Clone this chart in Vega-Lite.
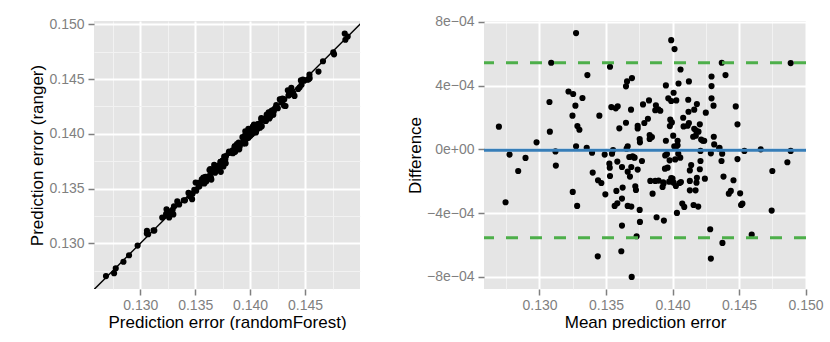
{
  "$schema": "https://vega.github.io/schema/vega-lite/v6.json",
  "background": "white",
  "padding": {"left": 28, "top": 14, "right": 0, "bottom": 0},
  "spacing": 46,
  "datasets": {
    "pts": [
      {"rf":0.12688,"rg":0.12702,"m":0.12695,"d":1.42e-4},
      {"rf":0.12762,"rg":0.12728,"m":0.12745,"d":-3.32e-4},
      {"rf":0.12777,"rg":0.12773,"m":0.12775,"d":-0.33e-4},
      {"rf":0.12847,"rg":0.12833,"m":0.1284,"d":-1.36e-4},
      {"rf":0.12898,"rg":0.12892,"m":0.12895,"d":-0.54e-4},
      {"rf":0.12976,"rg":0.1298,"m":0.12978,"d":0.44e-4},
      {"rf":0.1306,"rg":0.1309,"m":0.13075,"d":2.97e-4},
      {"rf":0.13072,"rg":0.13084,"m":0.13078,"d":1.11e-4},
      {"rf":0.13061,"rg":0.13115,"m":0.13088,"d":5.43e-4},
      {"rf":0.13121,"rg":0.13119,"m":0.1312,"d":-0.13e-4},
      {"rf":0.13128,"rg":0.13118,"m":0.13123,"d":-1.02e-4},
      {"rf":0.132,"rg":0.13236,"m":0.13218,"d":3.63e-4},
      {"rf":0.13236,"rg":0.1327,"m":0.13253,"d":3.47e-4},
      {"rf":0.13237,"rg":0.13259,"m":0.13248,"d":2.11e-4},
      {"rf":0.13256,"rg":0.13284,"m":0.1327,"d":2.74e-4},
      {"rf":0.13278,"rg":0.13292,"m":0.13285,"d":1.46e-4},
      {"rf":0.13294,"rg":0.13306,"m":0.133,"d":1.23e-4},
      {"rf":0.13307,"rg":0.13339,"m":0.13323,"d":3.22e-4},
      {"rf":0.13239,"rg":0.13311,"m":0.13275,"d":7.29e-4},
      {"rf":0.13274,"rg":0.13276,"m":0.13275,"d":0.19e-4},
      {"rf":0.13263,"rg":0.13237,"m":0.1325,"d":-2.67e-4},
      {"rf":0.13301,"rg":0.13265,"m":0.13283,"d":-3.55e-4},
      {"rf":0.13337,"rg":0.13383,"m":0.1336,"d":4.66e-4},
      {"rf":0.13354,"rg":0.13356,"m":0.13355,"d":0.1e-4},
      {"rf":0.13396,"rg":0.13394,"m":0.13395,"d":-0.21e-4},
      {"rf":0.13407,"rg":0.13393,"m":0.134,"d":-1.46e-4},
      {"rf":0.13439,"rg":0.13461,"m":0.1345,"d":2.11e-4},
      {"rf":0.1345,"rg":0.1343,"m":0.1344,"d":-1.94e-4},
      {"rf":0.13476,"rg":0.13454,"m":0.13465,"d":-2.11e-4},
      {"rf":0.13509,"rg":0.13481,"m":0.13495,"d":-2.82e-4},
      {"rf":0.13492,"rg":0.13488,"m":0.1349,"d":-0.33e-4},
      {"rf":0.13472,"rg":0.13404,"m":0.13438,"d":-6.71e-4},
      {"rf":0.13504,"rg":0.13556,"m":0.1353,"d":5.18e-4},
      {"rf":0.13527,"rg":0.13553,"m":0.1354,"d":2.65e-4},
      {"rf":0.1356,"rg":0.13586,"m":0.13573,"d":2.57e-4},
      {"rf":0.13574,"rg":0.13602,"m":0.13588,"d":2.7e-4},
      {"rf":0.1353,"rg":0.1352,"m":0.13525,"d":-0.9e-4},
      {"rf":0.13534,"rg":0.13522,"m":0.13528,"d":-1.15e-4},
      {"rf":0.13538,"rg":0.13522,"m":0.1353,"d":-1.67e-4},
      {"rf":0.13553,"rg":0.13553,"m":0.13553,"d":-0.04e-4},
      {"rf":0.13546,"rg":0.13544,"m":0.13545,"d":-0.27e-4},
      {"rf":0.13591,"rg":0.13565,"m":0.13578,"d":-2.61e-4},
      {"rf":0.13589,"rg":0.13581,"m":0.13585,"d":-0.77e-4},
      {"rf":0.13583,"rg":0.13547,"m":0.13565,"d":-3.55e-4},
      {"rf":0.13602,"rg":0.13568,"m":0.13585,"d":-3.38e-4},
      {"rf":0.13593,"rg":0.13607,"m":0.136,"d":1.32e-4},
      {"rf":0.13644,"rg":0.13596,"m":0.1362,"d":-4.78e-4},
      {"rf":0.13647,"rg":0.13583,"m":0.13615,"d":-6.39e-4},
      {"rf":0.13635,"rg":0.13605,"m":0.1362,"d":-3.09e-4},
      {"rf":0.13637,"rg":0.13613,"m":0.13625,"d":-2.4e-4},
      {"rf":0.13626,"rg":0.13614,"m":0.1362,"d":-1.11e-4},
      {"rf":0.1363,"rg":0.1367,"m":0.1365,"d":3.95e-4},
      {"rf":0.13637,"rg":0.13679,"m":0.13658,"d":4.26e-4},
      {"rf":0.13673,"rg":0.13717,"m":0.13695,"d":4.47e-4},
      {"rf":0.13642,"rg":0.13658,"m":0.1365,"d":1.67e-4},
      {"rf":0.13662,"rg":0.13664,"m":0.13663,"d":0.19e-4},
      {"rf":0.1367,"rg":0.13656,"m":0.13663,"d":-1.4e-4},
      {"rf":0.13677,"rg":0.13673,"m":0.13675,"d":-0.48e-4},
      {"rf":0.13689,"rg":0.13671,"m":0.1368,"d":-1.71e-4},
      {"rf":0.13676,"rg":0.137,"m":0.13688,"d":2.49e-4},
      {"rf":0.13696,"rg":0.13684,"m":0.1369,"d":-1.11e-4},
      {"rf":0.13681,"rg":0.13645,"m":0.13663,"d":-3.55e-4},
      {"rf":0.13708,"rg":0.13672,"m":0.1369,"d":-3.59e-4},
      {"rf":0.13733,"rg":0.13653,"m":0.13693,"d":-8.0e-4},
      {"rf":0.13702,"rg":0.13698,"m":0.137,"d":-0.44e-4},
      {"rf":0.13718,"rg":0.13712,"m":0.13715,"d":-0.52e-4},
      {"rf":0.13732,"rg":0.13708,"m":0.1372,"d":-2.32e-4},
      {"rf":0.13738,"rg":0.13712,"m":0.13725,"d":-2.55e-4},
      {"rf":0.13757,"rg":0.13703,"m":0.1373,"d":-5.45e-4},
      {"rf":0.13772,"rg":0.13734,"m":0.13753,"d":-3.8e-4},
      {"rf":0.13778,"rg":0.13732,"m":0.13755,"d":-4.55e-4},
      {"rf":0.13731,"rg":0.13745,"m":0.13738,"d":1.48e-4},
      {"rf":0.13731,"rg":0.13745,"m":0.13738,"d":1.31e-4},
      {"rf":0.1375,"rg":0.13756,"m":0.13753,"d":0.65e-4},
      {"rf":0.13753,"rg":0.13757,"m":0.13755,"d":0.44e-4},
      {"rf":0.13774,"rg":0.13766,"m":0.1377,"d":-0.73e-4},
      {"rf":0.13764,"rg":0.13792,"m":0.13778,"d":2.82e-4},
      {"rf":0.1378,"rg":0.13796,"m":0.13788,"d":1.65e-4},
      {"rf":0.13805,"rg":0.13825,"m":0.13815,"d":1.92e-4},
      {"rf":0.13808,"rg":0.13838,"m":0.13823,"d":3.07e-4},
      {"rf":0.13823,"rg":0.13833,"m":0.13828,"d":0.9e-4},
      {"rf":0.13825,"rg":0.13831,"m":0.13828,"d":0.65e-4},
      {"rf":0.13841,"rg":0.13849,"m":0.13845,"d":0.77e-4},
      {"rf":0.13843,"rg":0.13823,"m":0.13833,"d":-1.98e-4},
      {"rf":0.13864,"rg":0.13836,"m":0.1385,"d":-2.78e-4},
      {"rf":0.1388,"rg":0.1386,"m":0.1387,"d":-1.98e-4},
      {"rf":0.13861,"rg":0.13889,"m":0.13875,"d":2.76e-4},
      {"rf":0.13905,"rg":0.13885,"m":0.13895,"d":-1.96e-4},
      {"rf":0.13901,"rg":0.13859,"m":0.1388,"d":-4.26e-4},
      {"rf":0.13957,"rg":0.13913,"m":0.13935,"d":-4.47e-4},
      {"rf":0.1388,"rg":0.13906,"m":0.13893,"d":2.51e-4},
      {"rf":0.13896,"rg":0.1392,"m":0.13908,"d":2.42e-4},
      {"rf":0.13858,"rg":0.13882,"m":0.1387,"d":2.45e-4},
      {"rf":0.13937,"rg":0.13913,"m":0.13925,"d":-2.36e-4},
      {"rf":0.1394,"rg":0.1392,"m":0.1393,"d":-2.07e-4},
      {"rf":0.1393,"rg":0.1397,"m":0.1395,"d":4.01e-4},
      {"rf":0.13947,"rg":0.13953,"m":0.1395,"d":0.54e-4},
      {"rf":0.13947,"rg":0.13943,"m":0.13945,"d":-0.38e-4},
      {"rf":0.13959,"rg":0.13957,"m":0.13958,"d":-0.29e-4},
      {"rf":0.13952,"rg":0.13984,"m":0.13968,"d":3.2e-4},
      {"rf":0.13975,"rg":0.14005,"m":0.1399,"d":3.03e-4},
      {"rf":0.13956,"rg":0.14024,"m":0.1399,"d":6.85e-4},
      {"rf":0.13984,"rg":0.14046,"m":0.14015,"d":6.29e-4},
      {"rf":0.13974,"rg":0.13992,"m":0.13983,"d":1.86e-4},
      {"rf":0.13973,"rg":0.13987,"m":0.1398,"d":1.46e-4},
      {"rf":0.13987,"rg":0.14003,"m":0.13995,"d":1.69e-4},
      {"rf":0.1399,"rg":0.14026,"m":0.14008,"d":3.55e-4},
      {"rf":0.14013,"rg":0.14043,"m":0.14028,"d":3.07e-4},
      {"rf":0.14001,"rg":0.14009,"m":0.14005,"d":0.86e-4},
      {"rf":0.14012,"rg":0.14014,"m":0.14013,"d":0.19e-4},
      {"rf":0.14024,"rg":0.14026,"m":0.14025,"d":0.15e-4},
      {"rf":0.14035,"rg":0.14041,"m":0.14038,"d":0.54e-4},
      {"rf":0.14023,"rg":0.14017,"m":0.1402,"d":-0.63e-4},
      {"rf":0.14044,"rg":0.14042,"m":0.14043,"d":-0.27e-4},
      {"rf":0.14018,"rg":0.13998,"m":0.14008,"d":-2.09e-4},
      {"rf":0.14037,"rg":0.14013,"m":0.14025,"d":-2.3e-4},
      {"rf":0.14064,"rg":0.14042,"m":0.14053,"d":-2.11e-4},
      {"rf":0.14053,"rg":0.14013,"m":0.14033,"d":-3.99e-4},
      {"rf":0.13999,"rg":0.13981,"m":0.1399,"d":-1.8e-4},
      {"rf":0.13985,"rg":0.13965,"m":0.13975,"d":-2.03e-4},
      {"rf":0.13969,"rg":0.13957,"m":0.13963,"d":-1.15e-4},
      {"rf":0.14035,"rg":0.14085,"m":0.1406,"d":5.01e-4},
      {"rf":0.14024,"rg":0.14066,"m":0.14045,"d":4.13e-4},
      {"rf":0.1407,"rg":0.1409,"m":0.1408,"d":1.98e-4},
      {"rf":0.14076,"rg":0.1409,"m":0.14083,"d":1.44e-4},
      {"rf":0.14061,"rg":0.14055,"m":0.14058,"d":-0.52e-4},
      {"rf":0.1409,"rg":0.14056,"m":0.14073,"d":-3.4e-4},
      {"rf":0.14106,"rg":0.1407,"m":0.14088,"d":-3.61e-4},
      {"rf":0.14102,"rg":0.14144,"m":0.14123,"d":4.26e-4},
      {"rf":0.14102,"rg":0.14134,"m":0.14118,"d":3.11e-4},
      {"rf":0.14108,"rg":0.14132,"m":0.1412,"d":2.36e-4},
      {"rf":0.14106,"rg":0.1412,"m":0.14113,"d":1.48e-4},
      {"rf":0.14137,"rg":0.14123,"m":0.1413,"d":-1.32e-4},
      {"rf":0.14145,"rg":0.14135,"m":0.1414,"d":-0.98e-4},
      {"rf":0.1414,"rg":0.1412,"m":0.1413,"d":-1.98e-4},
      {"rf":0.14143,"rg":0.14117,"m":0.1413,"d":-2.57e-4},
      {"rf":0.14151,"rg":0.14175,"m":0.14163,"d":2.49e-4},
      {"rf":0.14169,"rg":0.14197,"m":0.14183,"d":2.84e-4},
      {"rf":0.14157,"rg":0.14169,"m":0.14163,"d":1.29e-4},
      {"rf":0.14151,"rg":0.14159,"m":0.14155,"d":0.79e-4},
      {"rf":0.14169,"rg":0.14181,"m":0.14175,"d":1.19e-4},
      {"rf":0.14197,"rg":0.14213,"m":0.14205,"d":1.57e-4},
      {"rf":0.14192,"rg":0.14174,"m":0.14183,"d":-1.78e-4},
      {"rf":0.1419,"rg":0.1417,"m":0.1418,"d":-2.09e-4},
      {"rf":0.14186,"rg":0.1416,"m":0.14173,"d":-2.57e-4},
      {"rf":0.14175,"rg":0.14141,"m":0.14158,"d":-3.49e-4},
      {"rf":0.14211,"rg":0.14175,"m":0.14193,"d":-3.59e-4},
      {"rf":0.14212,"rg":0.14218,"m":0.14215,"d":0.61e-4},
      {"rf":0.14225,"rg":0.14231,"m":0.14228,"d":0.54e-4},
      {"rf":0.1421,"rg":0.1421,"m":0.1421,"d":-0.1e-4},
      {"rf":0.14214,"rg":0.14206,"m":0.1421,"d":-0.73e-4},
      {"rf":0.14211,"rg":0.14199,"m":0.14205,"d":-1.25e-4},
      {"rf":0.14252,"rg":0.14234,"m":0.14243,"d":-1.84e-4},
      {"rf":0.14238,"rg":0.14262,"m":0.1425,"d":2.3e-4},
      {"rf":0.1427,"rg":0.14316,"m":0.14293,"d":4.57e-4},
      {"rf":0.14273,"rg":0.14313,"m":0.14293,"d":3.97e-4},
      {"rf":0.14277,"rg":0.14309,"m":0.14293,"d":3.2e-4},
      {"rf":0.14294,"rg":0.14322,"m":0.14308,"d":2.74e-4},
      {"rf":0.14306,"rg":0.14314,"m":0.1431,"d":0.79e-4},
      {"rf":0.14311,"rg":0.14315,"m":0.14313,"d":0.31e-4},
      {"rf":0.14308,"rg":0.14258,"m":0.14283,"d":-5.01e-4},
      {"rf":0.14322,"rg":0.14254,"m":0.14288,"d":-6.85e-4},
      {"rf":0.14289,"rg":0.14287,"m":0.14288,"d":-0.25e-4},
      {"rf":0.14352,"rg":0.14354,"m":0.14353,"d":0.1e-4},
      {"rf":0.14343,"rg":0.14397,"m":0.1437,"d":5.43e-4},
      {"rf":0.14375,"rg":0.14421,"m":0.14398,"d":4.66e-4},
      {"rf":0.14374,"rg":0.14372,"m":0.14373,"d":-0.27e-4},
      {"rf":0.14372,"rg":0.14364,"m":0.14368,"d":-0.73e-4},
      {"rf":0.14392,"rg":0.14374,"m":0.14383,"d":-1.71e-4},
      {"rf":0.14404,"rg":0.14346,"m":0.14375,"d":-5.87e-4},
      {"rf":0.14437,"rg":0.14409,"m":0.14423,"d":-2.78e-4},
      {"rf":0.14451,"rg":0.14425,"m":0.14438,"d":-2.61e-4},
      {"rf":0.14468,"rg":0.14448,"m":0.14458,"d":-1.94e-4},
      {"rf":0.14462,"rg":0.14488,"m":0.14475,"d":2.69e-4},
      {"rf":0.1448,"rg":0.14496,"m":0.14488,"d":1.57e-4},
      {"rf":0.14491,"rg":0.14485,"m":0.14488,"d":-0.61e-4},
      {"rf":0.14522,"rg":0.14494,"m":0.14508,"d":-2.76e-4},
      {"rf":0.14532,"rg":0.14498,"m":0.14515,"d":-3.49e-4},
      {"rf":0.1454,"rg":0.1454,"m":0.1454,"d":-0.1e-4},
      {"rf":0.14622,"rg":0.14568,"m":0.14595,"d":-5.35e-4},
      {"rf":0.14663,"rg":0.14663,"m":0.14663,"d":0.0},
      {"rf":0.14757,"rg":0.14743,"m":0.1475,"d":-1.36e-4},
      {"rf":0.14764,"rg":0.14726,"m":0.14745,"d":-3.84e-4},
      {"rf":0.14867,"rg":0.14859,"m":0.14863,"d":-0.81e-4},
      {"rf":0.14888,"rg":0.14888,"m":0.14888,"d":-0.1e-4},
      {"rf":0.14861,"rg":0.14915,"m":0.14888,"d":5.41e-4},
      {"rf":0.13711,"rg":0.13705,"m":0.13708,"d":-0.5e-4},
      {"rf":0.13981,"rg":0.13975,"m":0.13978,"d":-0.69e-4},
      {"rf":0.13949,"rg":0.13937,"m":0.13943,"d":-1.21e-4},
      {"rf":0.13944,"rg":0.13922,"m":0.13933,"d":-2.15e-4},
      {"rf":0.14009,"rg":0.13991,"m":0.14,"d":-1.84e-4},
      {"rf":0.14073,"rg":0.14053,"m":0.14063,"d":-2.05e-4},
      {"rf":0.13744,"rg":0.13732,"m":0.13738,"d":-1.27e-4},
      {"rf":0.13655,"rg":0.13655,"m":0.13655,"d":0.04e-4},
      {"rf":0.14037,"rg":0.14039,"m":0.14038,"d":0.25e-4},
      {"rf":0.14542,"rg":0.14508,"m":0.14525,"d":-3.41e-4},
      {"rf":0.1435,"rg":0.1435,"m":0.1435,"d":0.04e-4},
      {"rf":0.14235,"rg":0.14241,"m":0.14238,"d":0.54e-4},
      {"rf":0.14115,"rg":0.14131,"m":0.14123,"d":1.65e-4},
      {"rf":0.14171,"rg":0.14179,"m":0.14175,"d":0.86e-4},
      {"rf":0.14189,"rg":0.14201,"m":0.14195,"d":1.11e-4}
    ]
  },
  "hconcat": [
    {
      "width": 266,
      "height": 268,
      "encoding": {
        "x": {
          "field": "rf", "type": "quantitative",
          "title": "Prediction error (randomForest)",
          "scale": {"domain": [0.12579, 0.15], "nice": false, "zero": false},
          "axis": {
            "values": [0.1275, 0.13, 0.1325, 0.135, 0.1375, 0.14, 0.1425, 0.145, 0.1475],
            "labelExpr": "abs(datum.value*200 - round(datum.value*200)) < 0.01 ? format(datum.value, '.3f') : ''",
            "gridColor": {"condition": {"test": "abs(datum.value*200 - round(datum.value*200)) < 0.01", "value": "#FFFFFF"}, "value": "#F2F2F2"},
            "gridWidth": {"condition": {"test": "abs(datum.value*200 - round(datum.value*200)) < 0.01", "value": 2}, "value": 1},
            "tickOpacity": {"condition": {"test": "abs(datum.value*200 - round(datum.value*200)) < 0.01", "value": 1}, "value": 0}
          }
        },
        "y": {
          "field": "rg", "type": "quantitative",
          "title": "Prediction error (ranger)",
          "scale": {"domain": [0.12584, 0.1503], "nice": false, "zero": false},
          "axis": {
            "values": [0.1275, 0.13, 0.1325, 0.135, 0.1375, 0.14, 0.1425, 0.145, 0.1475, 0.15],
            "labelExpr": "abs(datum.value*200 - round(datum.value*200)) < 0.01 ? format(datum.value, '.3f') : ''",
            "gridColor": {"condition": {"test": "abs(datum.value*200 - round(datum.value*200)) < 0.01", "value": "#FFFFFF"}, "value": "#F2F2F2"},
            "gridWidth": {"condition": {"test": "abs(datum.value*200 - round(datum.value*200)) < 0.01", "value": 2}, "value": 1},
            "tickOpacity": {"condition": {"test": "abs(datum.value*200 - round(datum.value*200)) < 0.01", "value": 1}, "value": 0}
          }
        }
      },
      "layer": [
        {
          "data": {"name": "pts"},
          "mark": {"type": "circle", "size": 38, "opacity": 1, "color": "black"}
        },
        {
          "data": {"values": [{"rf": 0.12, "rg": 0.12}, {"rf": 0.16, "rg": 0.16}]},
          "mark": {"type": "line", "color": "black", "strokeWidth": 1.4, "clip": true}
        }
      ]
    },
    {
      "width": 322,
      "height": 268,
      "layer": [
        {
          "data": {"name": "pts"},
          "mark": {"type": "circle", "size": 38, "opacity": 1, "color": "black"},
          "encoding": {
            "x": {
              "field": "m", "type": "quantitative",
              "title": "Mean prediction error",
              "scale": {"domain": [0.12583, 0.15003], "nice": false, "zero": false},
              "axis": {
                "values": [0.1275, 0.13, 0.1325, 0.135, 0.1375, 0.14, 0.1425, 0.145, 0.1475, 0.15],
                "labelExpr": "abs(datum.value*200 - round(datum.value*200)) < 0.01 ? format(datum.value, '.3f') : ''",
                "gridColor": {"condition": {"test": "abs(datum.value*200 - round(datum.value*200)) < 0.01", "value": "#FFFFFF"}, "value": "#F2F2F2"},
                "gridWidth": {"condition": {"test": "abs(datum.value*200 - round(datum.value*200)) < 0.01", "value": 2}, "value": 1},
                "tickOpacity": {"condition": {"test": "abs(datum.value*200 - round(datum.value*200)) < 0.01", "value": 1}, "value": 0}
              }
            },
            "y": {
              "field": "d", "type": "quantitative",
              "title": "Difference",
              "scale": {"domain": [-0.000876, 0.000805], "nice": false, "zero": false},
              "axis": {
                "values": [-0.0008, -0.0006, -0.0004, -0.0002, 0, 0.0002, 0.0004, 0.0006, 0.0008],
                "labelExpr": "abs(datum.value*2500 - round(datum.value*2500)) < 0.01 ? (datum.value > 0.0006 ? '8e−04' : datum.value > 0.0002 ? '4e−04' : datum.value > -0.0002 ? '0e+00' : datum.value > -0.0006 ? '−4e−04' : '−8e−04') : ''",
                "gridColor": {"condition": {"test": "abs(datum.value*2500 - round(datum.value*2500)) < 0.01", "value": "#FFFFFF"}, "value": "#F2F2F2"},
                "gridWidth": {"condition": {"test": "abs(datum.value*2500 - round(datum.value*2500)) < 0.01", "value": 2}, "value": 1},
                "tickOpacity": {"condition": {"test": "abs(datum.value*2500 - round(datum.value*2500)) < 0.01", "value": 1}, "value": 0}
              }
            }
          }
        },
        {
          "data": {"values": [{"level": "mean", "d": -0.0000055}]},
          "mark": {"type": "rule", "color": "#377EB8", "strokeWidth": 3},
          "encoding": {
            "y": {"field": "d", "type": "quantitative", "title": "Difference", "scale": {"domain": [-0.000876, 0.000805], "nice": false, "zero": false}}
          }
        },
        {
          "data": {"values": [{"level": "upper", "d": 0.000543}, {"level": "lower", "d": -0.000554}]},
          "mark": {"type": "rule", "color": "#4DAF4A", "strokeWidth": 3, "strokeDash": [12, 12]},
          "encoding": {
            "y": {"field": "d", "type": "quantitative", "title": "Difference", "scale": {"domain": [-0.000876, 0.000805], "nice": false, "zero": false}}
          }
        }
      ]
    }
  ],
  "config": {
    "font": "Liberation Sans",
    "view": {"fill": "#E5E5E5", "stroke": null},
    "axis": {
      "domain": false,
      "grid": true,
      "gridOpacity": 1,
      "labelFont": "Liberation Sans",
      "labelFontSize": 14,
      "labelColor": "#7F7F7F",
      "labelFlush": false,
      "labelOverlap": false,
      "labelPadding": 4,
      "tickColor": "#7F7F7F",
      "tickSize": 6,
      "tickWidth": 1.5,
      "titleFont": "Liberation Sans",
      "titleFontSize": 17,
      "titleFontWeight": "normal",
      "titleColor": "black"
    },
    "axisX": {"titlePadding": 2, "labelPadding": 3},
    "axisY": {"titlePadding": 2}
  }
}
